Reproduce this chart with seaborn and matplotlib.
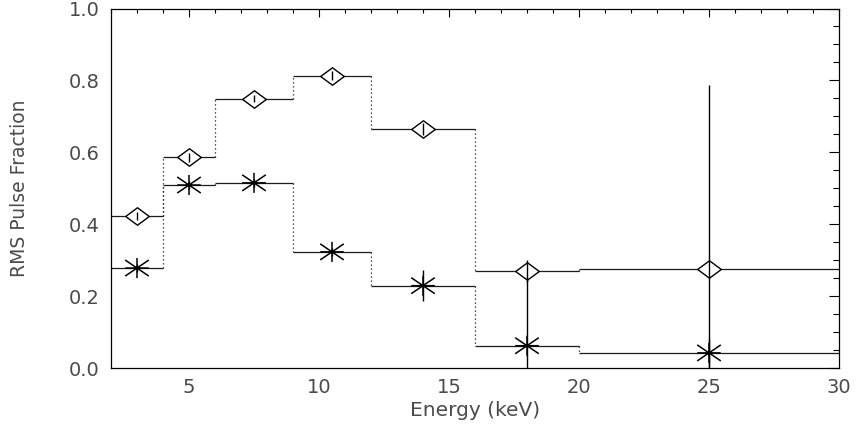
import numpy as np
import pandas as pd
import matplotlib
matplotlib.use("Agg")
import matplotlib.pyplot as plt
from matplotlib.path import Path
from matplotlib.ticker import MultipleLocator
import seaborn as sns

# ---- data ----
bin_edges = [2, 4, 6, 9, 12, 16, 20, 30]
energy = [3, 5, 7.5, 10.5, 14, 18, 25]
frac_diamond = [0.423, 0.586, 0.749, 0.813, 0.664, 0.270, 0.274]
err_diamond = [0.012, 0.012, 0.010, 0.012, 0.017, 0.031, 0.512]
frac_star = [0.278, 0.509, 0.515, 0.323, 0.229, 0.062, 0.042]
err_star = [0.012, 0.012, 0.012, 0.012, 0.043, 0.19, 0.04]
x_ticks = [5, 10, 15, 20, 25, 30]
y_ticks = [0.0, 0.2, 0.4, 0.6, 0.8, 1.0]

sns.set_theme(style="white")
plt.rcParams["font.family"] = ["DejaVu Sans"]

fig = plt.figure(figsize=(8.6, 4.34), dpi=100)
ax = fig.add_axes([111 / 860, 1 - 368 / 434, (839 - 111) / 860, (368 - 8.5) / 434])

line_col = "#1a1a1a"
lw = 0.9

for vals, errs in ((frac_diamond, err_diamond), (frac_star, err_star)):
    ax.hlines(vals, bin_edges[:-1], bin_edges[1:], color=line_col, lw=lw, zorder=2)
    ax.vlines(bin_edges[1:-1], vals[:-1], vals[1:], color=line_col, lw=lw,
              linestyles=[(0, (1, 2.2))], zorder=2)

# markers
diamond = Path([(-1.0, 0.0), (0.0, 0.74), (1.0, 0.0), (0.0, -0.74), (-1.0, 0.0)],
               [Path.MOVETO, Path.LINETO, Path.LINETO, Path.LINETO, Path.CLOSEPOLY])
star = Path([(0, -0.85), (0, 0.85), (-1.0, -0.68), (1.0, 0.68), (-1.0, 0.68), (1.0, -0.68),
             (-1.0, 0.0), (1.0, 0.0)],
            [Path.MOVETO, Path.LINETO, Path.MOVETO, Path.LINETO, Path.MOVETO, Path.LINETO,
             Path.MOVETO, Path.LINETO])

df_d = pd.DataFrame({"energy": energy, "frac": frac_diamond})
df_s = pd.DataFrame({"energy": energy, "frac": frac_star})

sns.scatterplot(data=df_d, x="energy", y="frac", marker=diamond, s=(17) ** 2,
                facecolor="white", edgecolor="black", linewidth=1.0, ax=ax, zorder=3)
sns.scatterplot(data=df_s, x="energy", y="frac", marker=star, s=(17) ** 2,
                facecolor="none", edgecolor="black", linewidth=1.1, ax=ax, zorder=3)

# error bars
ax.errorbar(energy, frac_diamond, yerr=err_diamond, fmt="none", ecolor="black",
            elinewidth=1.0, capsize=0, zorder=4)
ax.errorbar(energy, frac_star, yerr=err_star, fmt="none", ecolor="black",
            elinewidth=1.0, capsize=0, zorder=4)

ax.set_xlim(2, 30)
ax.set_ylim(0, 1.0)
ax.set_xticks(x_ticks)
ax.set_yticks(y_ticks)
ax.set_yticklabels([f"{v:.1f}" for v in y_ticks])
ax.xaxis.set_minor_locator(MultipleLocator(1))
ax.yaxis.set_minor_locator(MultipleLocator(0.05))

txt_col = "#4a4a4a"
ax.tick_params(axis="both", which="both", direction="in", top=True, right=True,
               colors="black", labelcolor=txt_col, width=0.8)
ax.tick_params(axis="x", which="major", length=5.5, pad=7, labelsize=14)
ax.tick_params(axis="x", which="minor", length=3)
ax.tick_params(axis="y", which="major", length=7, pad=8, labelsize=14)
ax.tick_params(axis="y", which="minor", length=4)

for sp in ax.spines.values():
    sp.set_color("black")
    sp.set_linewidth(0.9)

ax.set_xlabel("Energy (keV)", fontsize=14.5, color=txt_col)
ax.set_ylabel("RMS Pulse Fraction", fontsize=13.5, color=txt_col)
ax.xaxis.set_label_coords(0.5, -0.092)
ax.yaxis.set_label_coords(-0.113, 0.5)

fig.savefig("out.png", dpi=100)
